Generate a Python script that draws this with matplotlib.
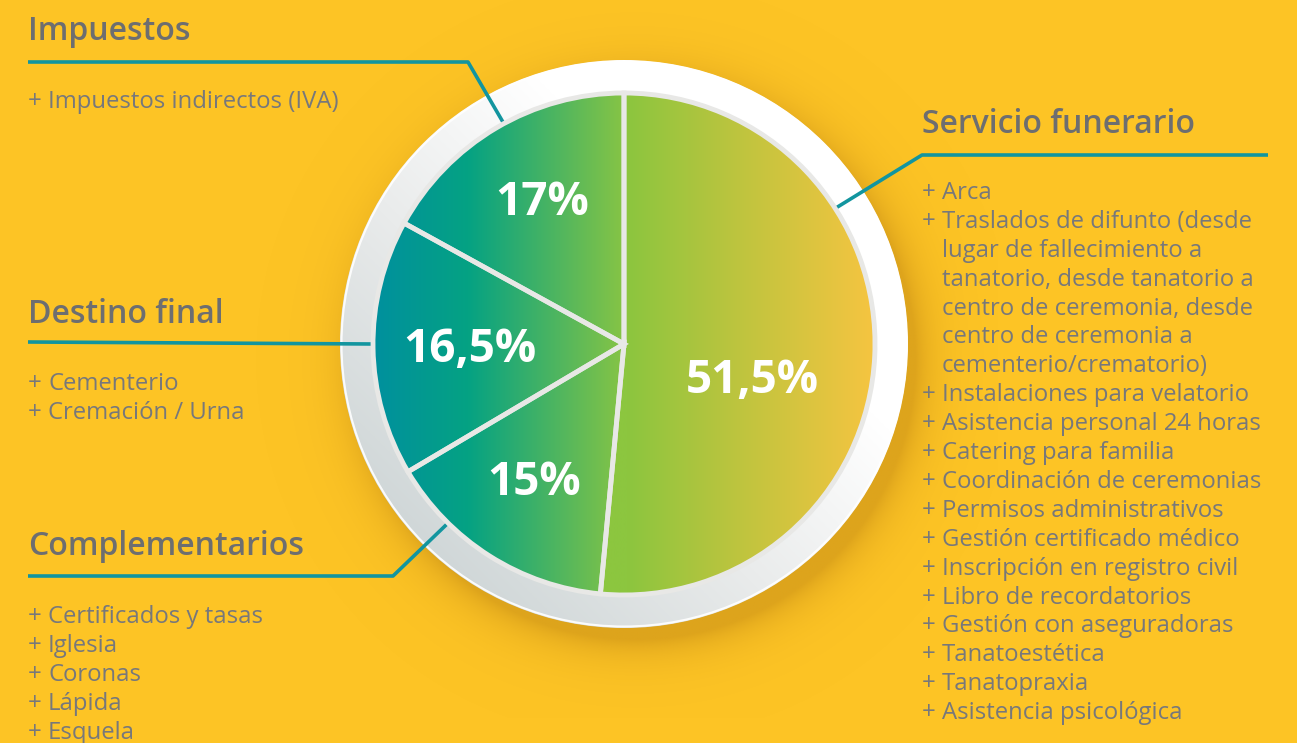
import numpy as np
import matplotlib.pyplot as plt
from matplotlib.colors import LinearSegmentedColormap, to_rgb
from matplotlib.patches import Circle

# ---- data ---------------------------------------------------------------
categories = ["Servicio funerario", "Complementarios", "Destino final", "Impuestos"]
shares = [51.5, 15.0, 16.5, 17.0]
share_labels = ["51,5%", "15%", "16,5%", "17%"]

items_servicio = [
    "Arca",
    "Traslados de difunto (desde\nlugar de fallecimiento a\ntanatorio, desde tanatorio a\n"
    "centro de ceremonia, desde\ncentro de ceremonia a\ncementerio/crematorio)",
    "Instalaciones para velatorio",
    "Asistencia personal 24 horas",
    "Catering para familia",
    "Coordinación de ceremonias",
    "Permisos administrativos",
    "Gestión certificado médico",
    "Inscripción en registro civil",
    "Libro de recordatorios",
    "Gestión con aseguradoras",
    "Tanatoestética",
    "Tanatopraxia",
    "Asistencia psicológica",
]
items_complementarios = ["Certificados y tasas", "Iglesia", "Coronas", "Lápida", "Esquela"]
items_destino = ["Cementerio", "Cremación / Urna"]
items_impuestos = ["Impuestos indirectos (IVA)"]

# ---- layout (pixels, y measured from top) --------------------------------
W, H = 1297, 743
BG = "#fdc425"
TEAL = "#12959f"
HEAD_C = "#6d6e70"
ITEM_C = "#77787b"
FONT = "Open Sans"

CX, CY = 624, 344
R, RO = 251, 284
STEP = 28.9

# heading x, heading baseline, rule x0, x1, y, anchor angle (deg), first item baseline
layout = {
    "Impuestos": (28, 40, 28, 468, 62, 118.6, 108, items_impuestos),
    "Destino final": (28, 323, 28, None, 342, 180.0, 390, items_destino),
    "Complementarios": (28, 555, 28, 393, 576, -134.5, 623, items_complementarios),
    "Servicio funerario": (922, 133, 922, 1268, 155, 32.7, 199, items_servicio),
}
label_pos = [(-13.6, 0.525), (-124.0, 0.64), (180.0, 0.614), (119.2, 0.67)]


def ys(y):
    return H - y


fig = plt.figure(figsize=(W / 100, H / 100), dpi=100)
fig.patch.set_facecolor(BG)
ax = fig.add_axes([0, 0, 1, 1])
ax.set_facecolor(BG)

cx, cy = CX, ys(CY)

# soft shadow, mostly bottom-right
gx = np.linspace(cx - RO - 90, cx + RO + 90, 600)
gy = np.linspace(cy - RO - 90, cy + RO + 90, 600)
X, Y = np.meshgrid(gx, gy)
d = np.hypot(X - (cx + 12), Y - (cy - 16))
shadow = np.zeros(X.shape + (4,))
shadow[..., :3] = to_rgb("#c98f16")
shadow[..., 3] = 0.6 * np.exp(-np.clip(d - RO + 4, 0, None) / 20.0)
ax.imshow(shadow, extent=(gx[0], gx[-1], gy[0], gy[-1]), origin="lower",
          zorder=1, interpolation="bilinear")

# outer ring with diagonal white -> grey gradient
ring = Circle((cx, cy), RO, facecolor="none", edgecolor="none", zorder=2)
ax.add_patch(ring)
u = ((X - cx) + (Y - cy)) / (np.sqrt(2) * RO)
ring_cmap = LinearSegmentedColormap.from_list("ring", ["#d0d7d8", "#e9ebeb", "#ffffff"])
im = ax.imshow(u, cmap=ring_cmap, vmin=-1.0, vmax=0.45,
               extent=(gx[0], gx[-1], gy[0], gy[-1]), origin="lower", zorder=2)
im.set_clip_path(ring)
ax.add_patch(Circle((cx, cy), RO - 1.5, facecolor="none", edgecolor="white",
                    lw=1.5, alpha=0.9, zorder=2.5))

# pie
wedges, _ = ax.pie(shares, center=(cx, cy), radius=R, startangle=90,
                   counterclock=False, frame=True,
                   wedgeprops=dict(facecolor="none", edgecolor="#e8e8e6", lw=3.5))

left_cmap = LinearSegmentedColormap.from_list(
    "left", [(0.0, "#00909e"), (0.38, "#05a283"), (1.0, "#86c445")])
right_cmap = LinearSegmentedColormap.from_list(
    "right", [(0.0, "#8cc63f"), (0.12, "#8cc63f"), (0.55, "#c2c43e"), (1.0, "#f6c541")])
grad = np.linspace(0, 1, 256).reshape(1, -1)

for i, w in enumerate(wedges):
    w.set_zorder(5)
    if i == 0:
        ext, cm = (cx - 30, cx + R, cy - R, cy + R), right_cmap
    else:
        ext, cm = (cx - R, cx, cy - R, cy + R), left_cmap
    g = ax.imshow(grad, cmap=cm, extent=ext, aspect="auto", zorder=4,
                  interpolation="bilinear")
    g.set_clip_path(w)

for (ang, frac), lab in zip(label_pos, share_labels):
    t = np.radians(ang)
    ax.text(cx + frac * R * np.cos(t), cy + frac * R * np.sin(t), lab,
            ha="center", va="center_baseline", color="white", fontsize=33,
            fontweight="bold", family=FONT, zorder=6)

# headings, rules, connectors and item lists
for name in categories:
    hx, hy, rx0, rx1, ry, ang, iy, items = layout[name]
    ax.text(hx, ys(hy), name, ha="left", va="baseline", fontsize=23,
            fontweight="semibold", color=HEAD_C, family=FONT)
    t = np.radians(ang)
    ex, ey = cx + R * np.cos(t), cy + R * np.sin(t)
    if rx1 is None:
        xs, yy = [rx0, ex], [ys(ry), ey]
    elif rx0 > CX:
        xs, yy = [ex, rx0, rx1], [ey, ys(ry), ys(ry)]
    else:
        xs, yy = [rx0, rx1, ex], [ys(ry), ys(ry), ey]
    ax.plot(xs, yy, color=TEAL, lw=2.6, solid_capstyle="butt", zorder=3)

    y = iy
    for it in items:
        ax.text(hx, ys(y), "+", ha="left", va="baseline", fontsize=17.2,
                color=ITEM_C, family=FONT)
        for line in it.split("\n"):
            ax.text(hx + 20, ys(y), line, ha="left", va="baseline", fontsize=17.2,
                    color=ITEM_C, family=FONT)
            y += STEP

ax.set_xlim(0, W)
ax.set_ylim(0, H)
ax.set_aspect("auto")
ax.axis("off")
fig.savefig("out.png", dpi=100, facecolor=BG)
